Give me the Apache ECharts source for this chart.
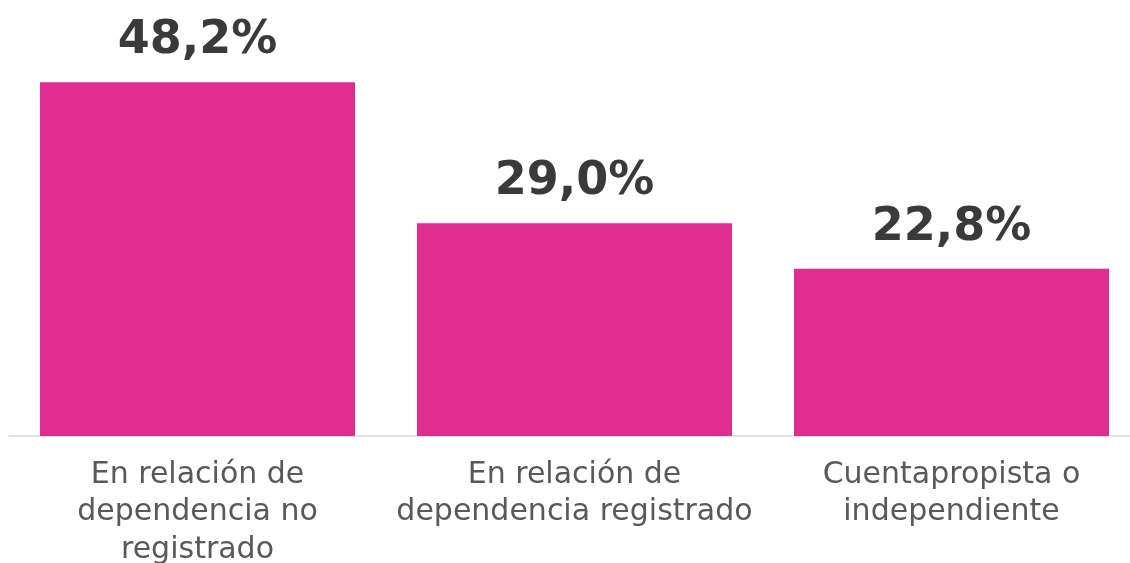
<!DOCTYPE html>
<html>
<head>
<meta charset="utf-8">
<script src="https://cdn.jsdelivr.net/npm/echarts@6/dist/echarts.min.js"></script>
<style>
  html, body { margin: 0; padding: 0; background: #fff; }
  #chart { width: 1130px; height: 563px; }
</style>
</head>
<body>
<div id="chart"></div>
<script>
const categories = [
  "En relación de\ndependencia no\nregistrado",
  "En relación de\ndependencia registrado",
  "Cuentapropista o\nindependiente"
];
const values = [48.2, 29.0, 22.8];

const chart = echarts.init(document.getElementById("chart"));

chart.setOption({
  animation: false,
  grid: {
    left: 9,
    width: 1131,
    top: 0,
    bottom: 127,
    outerBoundsMode: "none",
    containLabel: false
  },
  xAxis: {
    type: "category",
    data: categories,
    axisLine: { lineStyle: { color: "#d9d9d9", width: 1.5 } },
    axisTick: { show: false },
    axisLabel: {
      interval: 0,
      color: "#595959",
      fontFamily: "DejaVu Sans",
      fontSize: 30,
      lineHeight: 37.5,
      margin: 20
    }
  },
  yAxis: {
    type: "value",
    min: 0,
    max: 59.4,
    show: false,
    splitLine: { show: false }
  },
  series: [
    {
      type: "bar",
      data: values,
      barWidth: 315,
      itemStyle: { color: "#e02d8f" },
      label: {
        show: true,
        position: "top",
        distance: 18,
        color: "#3a3a3a",
        fontFamily: "DejaVu Sans",
        fontWeight: "bold",
        fontSize: 46,
        formatter: p => p.value.toFixed(1).replace(".", ",") + "%"
      }
    }
  ]
});
</script>
</body>
</html>
